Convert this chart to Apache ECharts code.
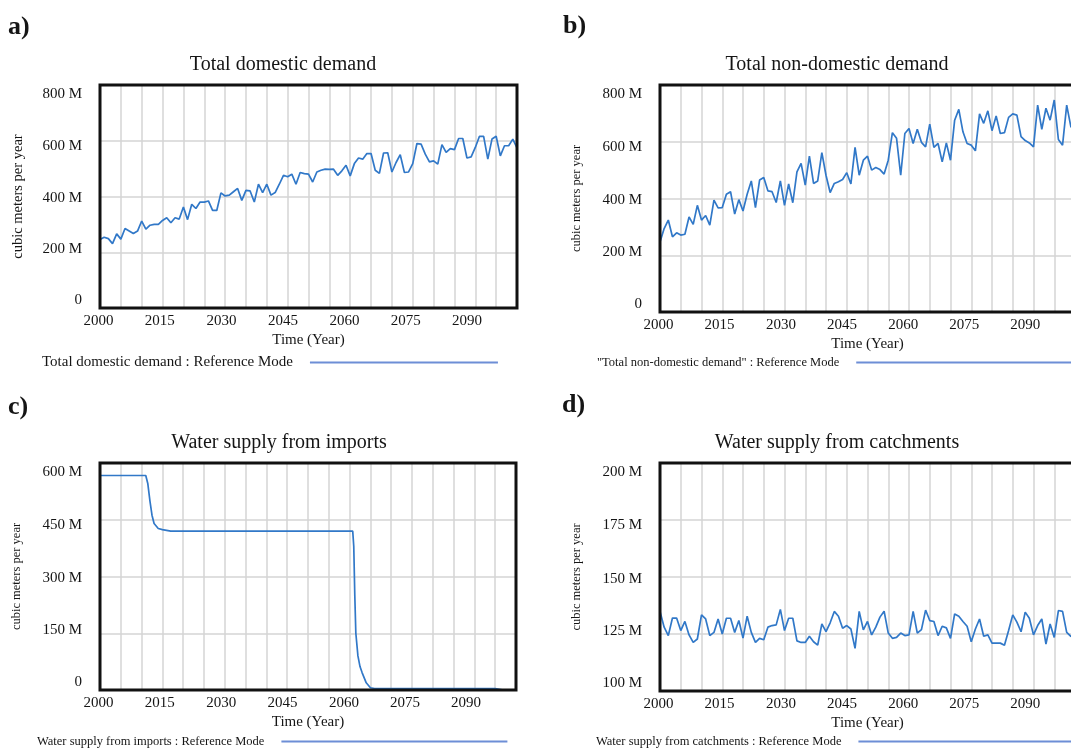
<!DOCTYPE html>
<html>
<head>
<meta charset="utf-8">
<script src="https://cdn.jsdelivr.net/npm/echarts@6/dist/echarts.min.js"></script>
<style>html,body{margin:0;padding:0;background:#fff}#c{width:1071px;height:749px}</style>
</head>
<body>
<div id="c"></div>
<script>
// ---- data (values in millions of cubic meters per year) ----
const years = [2000,2001,2002,2003,2004,2005,2006,2007,2008,2009,2010,2011,2012,2013,2014,2015,2016,2017,2018,2019,2020,2021,2022,2023,2024,2025,2026,2027,2028,2029,2030,2031,2032,2033,2034,2035,2036,2037,2038,2039,2040,2041,2042,2043,2044,2045,2046,2047,2048,2049,2050,2051,2052,2053,2054,2055,2056,2057,2058,2059,2060,2061,2062,2063,2064,2065,2066,2067,2068,2069,2070,2071,2072,2073,2074,2075,2076,2077,2078,2079,2080,2081,2082,2083,2084,2085,2086,2087,2088,2089,2090,2091,2092,2093,2094,2095,2096,2097,2098,2099,2100];

const domesticDemand = [246,254,249,231,266,247,285,276,267,276,
 312,283,297,300,300,314,324,306,324,319,
 362,317,372,357,380,380,384,350,350,413,
 402,405,417,429,386,422,420,380,444,414,
 444,405,414,444,476,471,480,444,486,482,
 480,452,488,494,498,497,498,476,492,512,
 474,518,538,534,554,554,494,483,556,557,
 488,522,550,486,488,518,590,588,552,524,
 528,516,586,558,572,568,608,608,538,542,
 576,616,616,534,606,616,546,582,582,606,
 574];

const nonDomesticDemand = [247,294,324,265,279,271,274,335,309,376,
 324,340,306,394,367,368,415,424,345,396,
 356,415,462,368,465,474,427,424,386,462,
 376,451,385,494,524,447,549,453,462,562,
 482,421,453,459,467,491,451,580,482,535,
 549,500,509,502,486,535,632,612,482,629,
 647,594,644,598,582,662,580,594,529,596,
 535,676,714,635,594,588,568,698,665,709,
 639,691,629,632,686,698,694,618,604,596,
 582,729,644,718,676,747,608,588,729,653,
 640];

const importYears = [2000,2011,2011.5,2012,2012.5,2013,2014,2015,2016,2017,2060.75,2061,2061.25,2061.5,2062,2062.5,2063,2064,2065,2066,2095,2096,2097,2100];
const importSupply = [567,567,545,500,462,440,427,424,422,420,420,380,250,150,90,62,46,19,6,4,4,2,0,0];

const catchmentSupply = [134.9,128,124.3,132,132,126.5,130.5,124.6,121.3,122.8,
 133.4,131.6,124.3,125.7,131.6,125,131.9,131.9,125.7,130.9,
 123.2,132.8,125.7,121.3,123.1,122.5,128,128.7,129,135.8,
 126.5,131.9,131.9,122,121.3,121.3,124,121.6,120.1,129.4,
 126,129.9,134.9,132.8,127.5,128.7,127.2,118.7,134.9,126.8,
 130.5,124.6,128,132.4,135,125.4,123.1,123.5,125.4,124.3,
 124.6,134.9,125.4,126.9,135.5,130.9,130.5,124.3,128.4,127.7,
 123.1,133.8,132.8,130.5,128.4,121.6,127.2,131.6,124,124.6,
 121,121,121,120.1,126.5,133.4,130.2,126,134.6,131.9,
 124.6,128.7,131.6,120.6,129.4,123.5,135.3,134.9,125.7,124,
 123];

const panelLetters = ['a)','b)','c)','d)'];
const panelTitles = ['Total domestic demand','Total non-domestic demand','Water supply from imports','Water supply from catchments'];
const seriesNames = ['Total domestic demand : Reference Mode','"Total non-domestic demand" : Reference Mode','Water supply from imports : Reference Mode','Water supply from catchments : Reference Mode'];
const yRanges = [[0,800,200],[0,800,200],[0,600,150],[100,200,25]];
const xTickLabels = [2000,2015,2030,2045,2060,2075,2090];

// ---- layout / style ----
const SERIF = '"Liberation Serif","Times New Roman",serif';
const INK = '#151515';
const LINE = '#3178c8';
const grids = [
  {left:100, width:417, top:85, height:223},
  {left:660, width:415, top:85, height:227},
  {left:100, width:416, top:463, height:227},
  {left:660, width:415, top:463, height:228}
];
const titlePos = [[283,55],[837,55],[279,433],[837,433]];
const letterPos = [[8,14],[563,13],[8,394],[562,392]];
const yNameSize = [14.5,12.5,12.5,12.5];
const legendPos = [[42,355,15,188],[597,356,12.5,230],[37,735,12.5,226],[596,735,12.5,230]];
const yLabelShift = [-8,-3,2,5,9];
const xLabelShift = [-1.5,-2.7,-3.6,-4.7,-5.7,-7,-8.3];

function yLabelRich(fs){
  const r = {};
  yLabelShift.forEach((d,i)=>{
    r['s'+i] = {fontFamily:SERIF, fontSize:fs, color:INK,
      padding: d>=0 ? [2*d,0,0,0] : [0,0,-2*d,0]};
  });
  return r;
}
function xLabelRich(fs){
  const r = {};
  xLabelShift.forEach((d,i)=>{
    r['x'+i] = {fontFamily:SERIF, fontSize:fs, color:INK, padding:[0,-2*d,0,0]};
  });
  return r;
}

const option = {
  animation:false,
  backgroundColor:'#fff',
  title:[], legend:[], grid:[], xAxis:[], yAxis:[], series:[]
};

for (let i=0;i<4;i++){
  option.title.push({text:panelLetters[i], left:letterPos[i][0], top:letterPos[i][1], padding:0,
    textStyle:{fontFamily:SERIF, fontWeight:'bold', fontSize:26, color:INK}});
  option.title.push({text:panelTitles[i], left:titlePos[i][0], top:titlePos[i][1], padding:0, textAlign:'center',
    textStyle:{fontFamily:SERIF, fontWeight:'normal', fontSize:20, color:INK}});
  option.grid.push(Object.assign({show:true, z:5, borderColor:'#111', borderWidth:3, backgroundColor:'transparent',
    containLabel:false, outerBoundsMode:'none'}, grids[i]));
  option.xAxis.push({
    gridIndex:i, type:'value', min:2000, max:2100, interval:5,
    axisLine:{show:false}, axisTick:{show:false},
    splitLine:{show:true, showMinLine:false, showMaxLine:false, lineStyle:{color:'#d5d5d5', width:1.5}},
    axisLabel:{margin:6, fontFamily:SERIF, fontSize:15, color:INK, rich:xLabelRich(15),
      formatter:(v)=> { const k = xTickLabels.indexOf(v); return k>=0 ? '{x'+k+'|'+v+'}' : ''; }},
    name:'Time (Year)', nameLocation:'middle', nameGap:25,
    nameTextStyle:{fontFamily:SERIF, fontSize:15, color:INK}
  });
  const yr = yRanges[i];
  option.yAxis.push({
    gridIndex:i, type:'value', min:yr[0], max:yr[1], interval:yr[2],
    axisLine:{show:false}, axisTick:{show:false},
    splitLine:{show:true, showMinLine:false, showMaxLine:false, lineStyle:{color:'#d5d5d5', width:1.5}},
    axisLabel:{margin:18, fontFamily:SERIF, fontSize:15, color:INK,
      formatter:(v,idx)=>'{s'+idx+'|'+(v===0?'0':v+' M')+'}', rich:yLabelRich(15)},
    name:'cubic meters per year', nameLocation:'middle', nameGap:(i===0?74:77),
    nameTextStyle:{fontFamily:SERIF, fontSize:yNameSize[i], color:INK}
  });
  const lp = legendPos[i];
  option.legend.push({
    left:lp[0], top:lp[1], padding:0, orient:'horizontal', align:'right',
    itemWidth:lp[3], itemHeight:14, selectedMode:false,
    textStyle:{fontFamily:SERIF, fontSize:lp[2], color:INK, padding:[0,12,0,0]},
    data:[{name:seriesNames[i], lineStyle:{color:'#6d8ed6', width:2}, itemStyle:{opacity:0}}]
  });
}

const seriesData = [
  years.map((y,k)=>[y, domesticDemand[k]]),
  years.map((y,k)=>[y, nonDomesticDemand[k]]),
  importYears.map((y,k)=>[y, importSupply[k]]),
  years.map((y,k)=>[y, catchmentSupply[k]])
];
for (let i=0;i<4;i++){
  option.series.push({
    name:seriesNames[i], type:'line', xAxisIndex:i, yAxisIndex:i,
    data:seriesData[i], symbol:'none', smooth:false,
    lineStyle:{color:LINE, width:1.7}, itemStyle:{color:LINE}
  });
}

const chart = echarts.init(document.getElementById('c'), null, {renderer:'canvas'});
chart.setOption(option);
</script>
</body>
</html>
